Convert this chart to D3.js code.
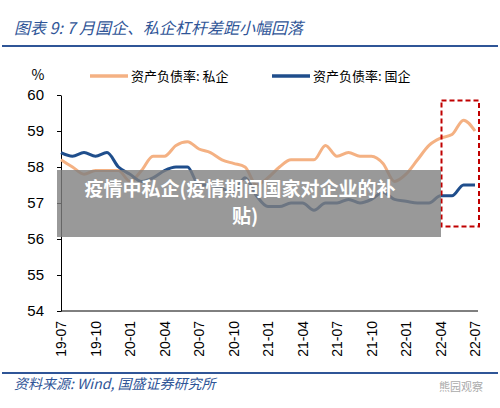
<!DOCTYPE html>
<html><head><meta charset="utf-8">
<script src="https://cdn.jsdelivr.net/npm/d3@7"></script>
<style>body{margin:0;background:#fff}svg{font-family:"Noto Sans CJK SC","Liberation Sans",sans-serif}</style>
</head><body><svg id="c" width="500" height="408"></svg>
<script>
var months = ["19-07","19-08","19-09","19-10","19-11","19-12","20-01","20-02","20-03","20-04","20-05","20-06","20-07","20-08","20-09","20-10","20-11","20-12","21-01","21-02","21-03","21-04","21-05","21-06","21-07","21-08","21-09","21-10","21-11","21-12","22-01","22-02","22-03","22-04","22-05","22-06","22-07"];
var privateVals = [58.2,58.0,57.8,57.9,57.9,57.9,57.6,57.9,58.3,58.3,58.6,58.7,58.5,58.4,58.2,58.1,58.0,57.5,57.7,58.0,58.2,58.2,58.2,58.6,58.3,58.4,58.3,58.3,58.1,57.6,57.8,58.2,58.6,58.8,58.9,59.3,59.0];
var stateVals = [58.4,58.3,58.4,58.3,58.4,58.0,57.8,57.6,57.7,57.9,58.0,58.0,57.5,57.5,57.4,57.3,57.7,57.2,56.9,56.9,57.0,57.0,56.8,57.0,57.0,57.1,57.0,57.1,57.3,57.1,57.05,57.0,57.0,57.2,57.2,57.5,57.5];
var yTicks = [54,55,56,57,58,59,60];
var tickMonths = months.filter(function(d,i){return i%3===0;});

var svg = d3.select("#c");
var x = d3.scalePoint().domain(months).range([61,475]);
var y = d3.scaleLinear().domain([54,60]).range([311,95]);

svg.append("text").attr("x",14).attr("y",34).attr("fill","#2f5597").attr("font-size",16).attr("font-style","italic").text("图表 9:  7 月国企、私企杠杆差距小幅回落");
svg.append("line").attr("x1",2).attr("x2",498).attr("y1",46).attr("y2",46).attr("stroke","#2f5597").attr("stroke-width",2);
svg.append("line").attr("x1",2).attr("x2",498).attr("y1",373).attr("y2",373).attr("stroke","#2f5597").attr("stroke-width",2);
svg.append("text").attr("x",14).attr("y",389).attr("fill","#2f5597").attr("font-size",14).attr("font-style","italic").text("资料来源:  Wind,  国盛证券研究所");
svg.append("text").attr("x",483).attr("y",391).attr("text-anchor","end").attr("fill","#aaa").attr("font-size",11).text("熊园观察");

svg.append("text").attr("x",38).attr("y",80).attr("text-anchor","middle").attr("font-size",14).text("%");
[["#f4b183","资产负债率: 私企",90],["#1f4e8c","资产负债率: 国企",272]].forEach(function(l){
  svg.append("line").attr("x1",l[2]).attr("x2",l[2]+38).attr("y1",76).attr("y2",76).attr("stroke",l[0]).attr("stroke-width",3.5);
  svg.append("text").attr("x",l[2]+41).attr("y",81).attr("font-size",13).text(l[1]);
});

var ya = svg.append("g").attr("transform","translate(61,0)").call(d3.axisLeft(y).tickValues(yTicks).tickFormat(d3.format("d")).tickSize(4).tickSizeOuter(0));
ya.selectAll("text").attr("font-size",15).attr("font-family","Liberation Sans").attr("fill","#000").attr("dx",-10);
var xa = svg.append("g").attr("transform","translate(0,311)").call(d3.axisBottom(x).tickValues(tickMonths).tickSize(0).tickSizeOuter(0));
xa.select(".domain").attr("d","M61,0H478");
xa.selectAll("text").attr("font-size",14).attr("font-family","Liberation Sans").attr("fill","#000")
  .attr("transform","rotate(-90)").attr("text-anchor","end").attr("dx",-10).attr("dy","0.35em").attr("y",0);

var line = d3.line().x(function(d,i){return x(months[i]);}).y(function(d){return y(d);}).curve(d3.curveMonotoneX);
svg.append("path").datum(privateVals).attr("d",line).attr("fill","none").attr("stroke","#f4b183").attr("stroke-width",3);
svg.append("path").datum(stateVals).attr("d",line).attr("fill","none").attr("stroke","#1f4e8c").attr("stroke-width",3);

svg.append("rect").attr("x",x("22-04")+1).attr("y",y(59.85)).attr("width",x("22-07")-x("22-04")+3).attr("height",y(56.35)-y(59.85))
  .attr("fill","none").attr("stroke","#c00000").attr("stroke-width",2).attr("stroke-dasharray","5,3");

svg.append("rect").attr("x",57).attr("y",170).attr("width",384).attr("height",67).attr("fill","#7f7f7f").attr("opacity",0.8);
svg.append("text").attr("x",240).attr("y",196).attr("text-anchor","middle").attr("fill","#fff").attr("font-size",19).attr("font-weight","bold").text("疫情中私企(疫情期间国家对企业的补");
svg.append("text").attr("x",245).attr("y",223).attr("text-anchor","middle").attr("fill","#fff").attr("font-size",19).attr("font-weight","bold").text("贴)");
</script></body></html>
